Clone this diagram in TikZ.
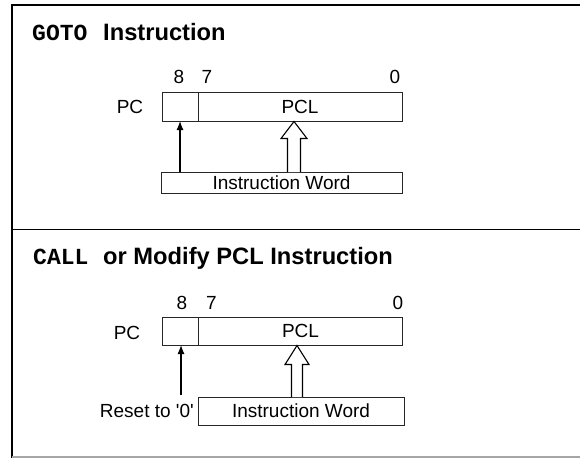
\documentclass[tikz,border=0pt]{standalone}
\usepackage{fontspec}
\setmainfont{Liberation Sans}
\newfontfamily\plainsans{Liberation Sans}
\newfontfamily\monofam{Liberation Mono}
\usetikzlibrary{arrows.meta,calc}
\tikzset{
  reg/.style={draw=black!85, line width=1pt, inner sep=0pt, outer sep=0pt},
  lbl/.style={inner sep=0pt, font=\fontsize{19}{21}\selectfont\plainsans},
  ttl/.style={inner sep=0pt, anchor=base west, font=\fontsize{23.7}{26}\selectfont\bfseries},
  ttlmono/.style={inner sep=0pt, anchor=base west, font=\fontsize{23}{26}\selectfont\monofam\bfseries},
  thin/.style={line width=1.2pt, -{Latex[length=9pt,width=7pt]}},
  hollow/.style={draw, line width=1.1pt, fill=white, line join=miter},
  frame/.style={line width=2pt}
}
\begin{document}
\begin{tikzpicture}[x=1pt,y=-1pt]
\useasboundingbox (0,0) rectangle (580,458);
% frame
\draw[frame] (12,458) -- (12,5) -- (580,5);
\draw[line width=1.5pt] (12,229.5) -- (580,229.5);
\draw[line width=1.2pt, black!35] (12,457) -- (580,457);

% ---------- top panel ----------
\node[ttlmono] (t1a) at (32,40) {GOTO};
\node[ttl] (t1b) at (103,40) {Instruction};
\node[lbl] (n8a) at (179,77) {8};
\node[lbl] (n7a) at (207,77) {7};
\node[lbl] (n0a) at (395,77) {0};
\node[lbl] (pca) at (130,107) {PC};
\node[reg, minimum width=36pt, minimum height=29pt] (b8a) at (180,106.5) {};
\node[reg, minimum width=204pt, minimum height=29pt, lbl] (pcla) at (300,106.5) {PCL};
\node[reg, minimum width=241pt, minimum height=21pt, lbl] (iwa) at (281.5,182.5) {Instruction Word};
\draw[thin] (iwa.north -| b8a.south) -- (b8a.south);
\coordinate (tipa) at (294,121.5);
\coordinate (basea) at (294,172);
\draw[hollow] ($(basea)+(-6.5,0)$) -- ($(tipa)+(-6.5,17)$) -- ($(tipa)+(-13,17)$) -- (tipa)
  -- ($(tipa)+(13,17)$) -- ($(tipa)+(6.5,17)$) -- ($(basea)+(6.5,0)$);

% ---------- bottom panel ----------
\node[ttlmono] (t2a) at (33,264) {CALL};
\node[ttl] (t2b) at (103,264) {or Modify PCL Instruction};
\node[lbl] (n8b) at (182,303) {8};
\node[lbl] (n7b) at (211.5,303) {7};
\node[lbl] (n0b) at (398,303) {0};
\node[lbl] (pcb) at (127,333) {PC};
\node[reg, minimum width=36pt, minimum height=28pt] (b8b) at (180.5,331) {};
\node[reg, minimum width=204pt, minimum height=28pt, lbl] (pclb) at (300.5,331) {PCL};
\node[reg, minimum width=206pt, minimum height=28pt, lbl] (iwb) at (301,411) {Instruction Word};
\node[lbl, anchor=east] (rst) at (194,411) {Reset to '0'};
\coordinate (rsb) at (181,395);
\draw[thin] (rsb) -- (rsb |- b8b.south);
\coordinate (tipb) at (297,345.5);
\coordinate (baseb) at (297,397);
\draw[hollow] ($(baseb)+(-5.5,0)$) -- ($(tipb)+(-5.5,19)$) -- ($(tipb)+(-12,19)$) -- (tipb)
  -- ($(tipb)+(12,19)$) -- ($(tipb)+(5.5,19)$) -- ($(baseb)+(5.5,0)$);
\end{tikzpicture}
\end{document}
